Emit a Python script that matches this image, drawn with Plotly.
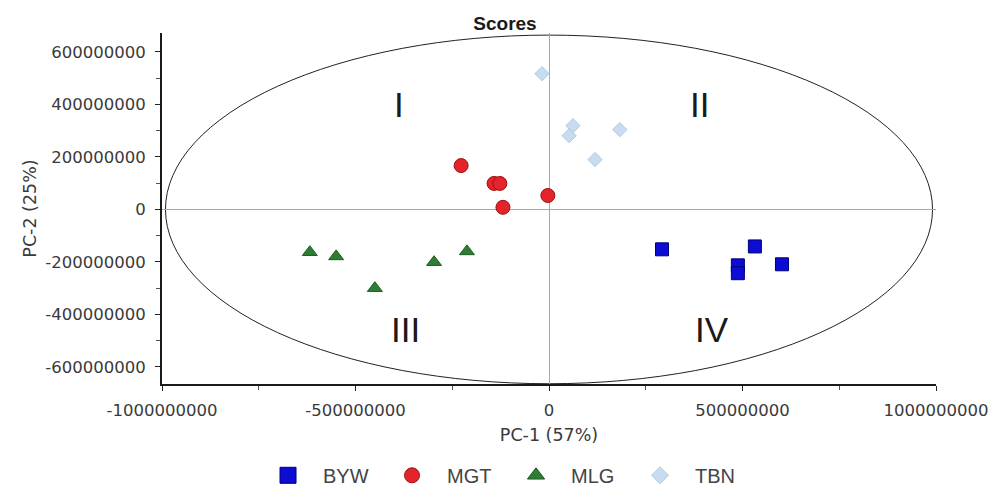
import plotly.graph_objects as go

# ---- data ----
BYW_x = [292e6, 532e6, 488e6, 488e6, 602e6]
BYW_y = [-152e6, -141e6, -213e6, -243e6, -209e6]

MGT_x = [-227e6, -142e6, -127e6, -119e6, -3e6]
MGT_y = [167e6, 99e6, 99e6, 8e6, 53e6]

MLG_x = [-618e6, -550e6, -450e6, -297e6, -212e6]
MLG_y = [-163e6, -179e6, -300e6, -201e6, -160e6]

TBN_x = [-18e6, 62e6, 52e6, 183e6, 119e6]
TBN_y = [517e6, 319e6, 281e6, 304e6, 190e6]

x_tickvals = [-1000000000, -500000000, 0, 500000000, 1000000000]
x_ticktext = ["-1000000000", "-500000000", "0", "500000000", "1000000000"]
y_tickvals = [-600000000, -400000000, -200000000, 0, 200000000, 400000000, 600000000]
y_ticktext = ["-600000000", "-400000000", "-200000000", "0", "200000000", "400000000", "600000000"]

quadrant_labels = ["I", "II", "III", "IV"]
quadrant_x = [-388e6, 390e6, -372e6, 421e6]
quadrant_y = [398e6, 398e6, -459e6, -459e6]

ellipse_rx = 991e6
ellipse_ry = 664e6

groups = ["BYW", "MGT", "MLG", "TBN"]
symbols = ["square", "circle", "triangle-up", "diamond"]
fills = ["#0c0cd2", "#e3242b", "#2e7d32", "#c8dcf0"]
edges = ["#00007a", "#a01010", "#1b5e20", "#b0cbe6"]
plot_sizes = [13, 14, 13, 11]
legend_sizes = [16, 15, 15, 13]
xs = [BYW_x, MGT_x, MLG_x, TBN_x]
ys = [BYW_y, MGT_y, MLG_y, TBN_y]

fig = go.Figure()

for g, s, f, e, ps, xv, yv in zip(groups, symbols, fills, edges, plot_sizes, xs, ys):
    fig.add_trace(go.Scatter(x=xv, y=yv, mode="markers", name=g, legendgroup=g,
                             showlegend=False,
                             marker=dict(symbol=s, size=ps, color=f, line=dict(color=e, width=1))))
# legend-only entries (larger legend symbols, as in the reference)
for g, s, f, e, ls in zip(groups, symbols, fills, edges, legend_sizes):
    fig.add_trace(go.Scatter(x=[None], y=[None], mode="markers", name=g, legendgroup=g,
                             marker=dict(symbol=s, size=ls, color=f, line=dict(color=e, width=1))))

fig.add_shape(type="circle", xref="x", yref="y",
              x0=-ellipse_rx, x1=ellipse_rx, y0=-ellipse_ry, y1=ellipse_ry,
              line=dict(color="#222222", width=1), layer="below")

for t, qx, qy in zip(quadrant_labels, quadrant_x, quadrant_y):
    fig.add_annotation(x=qx, y=qy, text=t, showarrow=False,
                       font=dict(family="Liberation Sans, Arial", size=35, color="#1a1a1a"))

tick_font = dict(family="DejaVu Sans", size=16.5, color="#3a3a3a")
title_font = dict(family="DejaVu Sans", size=17.5, color="#3a3a3a")

fig.update_layout(
    width=998, height=487,
    margin=dict(l=162, r=62, t=33, b=103, autoexpand=False),
    paper_bgcolor="white", plot_bgcolor="white",
    title=dict(text="<b>Scores</b>", x=0.506, xanchor="center", y=0.953, yanchor="middle",
               font=dict(family="Liberation Sans, Arial", size=19, color="#1a1a1a")),
    showlegend=True,
    legend=dict(orientation="h", x=0.1176, xanchor="left",
                yref="container", y=0.024, yanchor="middle",
                entrywidth=49, entrywidthmode="pixels", itemwidth=60,
                font=dict(family="Liberation Sans, Arial", size=20, color="#444444")),
    xaxis=dict(range=[-1000e6, 1000e6], tickvals=x_tickvals, ticktext=x_ticktext,
               showgrid=False, zeroline=True, zerolinecolor="#a8a8a8", zerolinewidth=1,
               showline=True, linecolor="#1a1a1a", linewidth=2,
               ticks="outside", ticklen=5, tickcolor="#222222", ticklabelstandoff=5,
               minor=dict(dtick=250e6, tick0=0, ticks="outside", ticklen=4, tickcolor="#555555"),
               tickfont=tick_font,
               title=dict(text="PC-1 (57%)", font=title_font, standoff=10)),
    yaxis=dict(range=[-665e6, 672e6], tickvals=y_tickvals, ticktext=y_ticktext,
               showgrid=False, zeroline=True, zerolinecolor="#a8a8a8", zerolinewidth=1,
               showline=True, linecolor="#1a1a1a", linewidth=2,
               ticks="outside", ticklen=5, tickcolor="#222222", ticklabelstandoff=6,
               minor=dict(dtick=100e6, tick0=0, ticks="outside", ticklen=4, tickcolor="#555555"),
               tickfont=tick_font,
               title=dict(text="PC-2 (25%)", font=title_font, standoff=4)),
)

fig.write_html("out.html")
